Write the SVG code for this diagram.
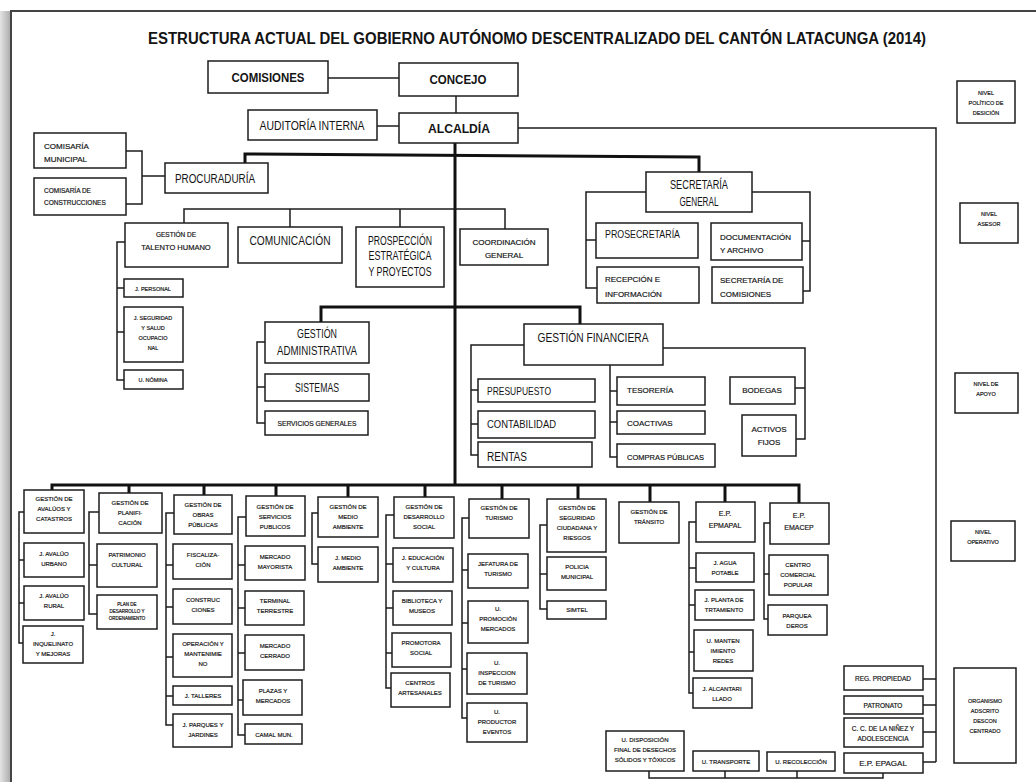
<svg xmlns="http://www.w3.org/2000/svg" width="1036" height="782" viewBox="0 0 1036 782">
<defs>
<linearGradient id="sh" x1="0" x2="1" y1="0" y2="0"><stop offset="0" stop-color="#e4e4e4"/><stop offset="1" stop-color="#a9a9a9"/></linearGradient>
<style>
.b{fill:#fff;stroke:#1c1c1c;stroke-width:1.5}
.c{fill:none;stroke:#1c1c1c;stroke-width:1.5}
.k{fill:none;stroke:#111;stroke-width:3}
text{font-family:"Liberation Sans",Arial,sans-serif;fill:#141414}
.m{text-anchor:middle}
.bd{font-weight:bold}
.s45,.s55,.s6,.s65,.s7,.s75,.s8,.sv{stroke:#141414;stroke-width:0.18}
.s45{font-size:4.5px}.s55{font-size:5.5px}.s6{font-size:6px}.s65{font-size:6.5px}.s7{font-size:7px}.s75{font-size:7.5px}.s8{font-size:8px}.s11{font-size:11px}.s12{font-size:12px}.s13{font-size:13px}
</style>
</defs>
<rect width="1036" height="782" fill="#fff"/>
<rect x="0" y="11" width="11" height="771" fill="url(#sh)"/>
<path d="M11,782 V11 H1036" fill="none" stroke="#444" stroke-width="2"/>
<text x="148" y="44" class="bd" font-size="16" textLength="778" lengthAdjust="spacingAndGlyphs">ESTRUCTURA ACTUAL DEL GOBIERNO AUTÓNOMO DESCENTRALIZADO DEL CANTÓN LATACUNGA (2014)</text>

<g id="connectors">
<path class="k" d="M245,163 V154 L699,157 V173"/>
<path class="k" d="M455,143 V485"/>
<path class="k" d="M321,322 V307 H580 V324"/>
<path class="k" d="M52,490 V485 H799 V503 M129,485 V493 M204,485 V495 M276,485 V496 M348,485 V497 M425,485 V497 M502,485 V499 M578,485 V499 M650,485 V502 M725,485 V502"/>
<path class="c" d="M328,78 H399"/>
<path class="c" stroke-width="2" d="M456,96 V113"/>
<path class="c" d="M377,126 H399"/>
<path class="c" d="M518,128 H936 V762 M923,679 H936 M923,705 H936 M923,732 H936 M923,762 H936"/>
<path class="c" d="M126,151 H142 V204 H126 M142,176 H165"/>
<path class="c" d="M646,192 H586 V288 H597 M586,240 H596"/>
<path class="c" d="M752,192 H810 V291 H803 M802,241 H810"/>
<path class="c" d="M184,223 V209 H505 V229 M290,209 V227 M400,209 V227"/>
<path class="c" d="M125,242 H117 V380 H124 M117,288 H124 M117,332 H124"/>
<path class="c" d="M265,342 H257 V423 H265 M257,387 H265"/>
<path class="c" d="M524,345 H471 V455 H478 M471,390 H478 M471,424 H478"/>
<path class="c" d="M610,365 V457 H617 M610,391 H617 M610,422 H617"/>
<path class="c" d="M663,348 H805 V439 H796 M795,388 H805"/>
<path class="c" d="M24,512 H19 V643 H23 M19,560 H24 M19,603 H24"/>
<path class="c" d="M99,512 H89 V614 H97 M89,565 H97"/>
<path class="c" d="M174,513 H166 V725 H173 M166,565 H173 M166,607 H173 M166,657 H173 M166,696 H173"/>
<path class="c" d="M246,517 H238 V735 H245 M238,565 H245 M238,608 H245 M238,653 H245 M238,700 H243"/>
<path class="c" d="M318,513 H312 V564 H318"/>
<path class="c" d="M394,515 H386 V688 H391 M386,564 H393 M386,608 H393 M386,653 H392"/>
<path class="c" d="M469,518 H462 V718 H467 M462,570 H468 M462,623 H468 M462,669 H467"/>
<path class="c" d="M547,525 H540 V609 H547 M540,574 H547"/>
<path class="c" d="M696,522 H689 V693 H693 M689,568 H696 M689,605 H695 M689,652 H694"/>
<path class="c" d="M770,523 H764 V619 H768 M764,574 H769"/>
<path class="c" d="M649,771 V778 H883 V773 M725,771 V778 M797,771 V778"/>
</g>

<g id="comisiones"><rect class="b" x="208" y="61" width="120" height="32"/><text class="m bd s13" x="268" y="82" textLength="73" lengthAdjust="spacingAndGlyphs">COMISIONES</text></g>
<g id="concejo"><rect class="b" x="399" y="63" width="119" height="33"/><text class="m bd s13" x="458" y="84" textLength="57" lengthAdjust="spacingAndGlyphs">CONCEJO</text></g>
<g id="auditoria"><rect class="b" x="248" y="110" width="129" height="30"/><text class="m s12" x="312" y="130" textLength="105" lengthAdjust="spacingAndGlyphs">AUDITORÍA INTERNA</text></g>
<g id="alcaldia"><rect class="b" x="399" y="113" width="119" height="30"/><text class="m bd s13" x="459" y="133" textLength="62" lengthAdjust="spacingAndGlyphs">ALCALDÍA</text></g>
<g id="procuraduria"><rect class="b" x="165" y="163" width="103" height="30"/><text class="s12" x="175" y="183" textLength="80" lengthAdjust="spacingAndGlyphs">PROCURADURÍA</text></g>
<g id="comisaria-municipal"><rect class="b" x="34" y="133" width="92" height="35"/><text class="s8" x="44" y="149">COMISARÍA</text><text class="s8" x="44" y="162">MUNICIPAL</text></g>
<g id="comisaria-construcciones"><rect class="b" x="34" y="178" width="92" height="37"/><text class="s65" x="44" y="193">COMISARÍA DE</text><text class="s65" x="44" y="205">CONSTRUCCIONES</text></g>
<g id="secretaria-general"><rect class="b" x="646" y="172" width="106" height="40"/><text class="m s12" x="699" y="189" textLength="58" lengthAdjust="spacingAndGlyphs">SECRETARÍA</text><text class="m s12" x="699" y="206" textLength="39" lengthAdjust="spacingAndGlyphs">GENERAL</text></g>
<g id="prosecretaria"><rect class="b" x="596" y="223" width="102" height="35"/><text class="s11" x="605" y="238" textLength="75" lengthAdjust="spacingAndGlyphs">PROSECRETARÍA</text></g>
<g id="recepcion"><rect class="b" x="597" y="267" width="102" height="36"/><text class="s8" x="605" y="282">RECEPCIÓN E</text><text class="s8" x="605" y="297">INFORMACIÓN</text></g>
<g id="documentacion"><rect class="b" x="711" y="223" width="91" height="37"/><text class="s8" x="720" y="240">DOCUMENTACIÓN</text><text class="s8" x="720" y="253">Y ARCHIVO</text></g>
<g id="secretaria-comisiones"><rect class="b" x="712" y="267" width="91" height="36"/><text class="s8" x="720" y="283">SECRETARÍA DE</text><text class="s8" x="720" y="297">COMISIONES</text></g>

<g id="talento-humano"><rect class="b" x="125" y="223" width="103" height="44"/><text class="m s65" x="176" y="237">GESTIÓN DE</text><text class="m s75" x="176" y="250">TALENTO HUMANO</text></g>
<g id="comunicacion"><rect class="b" x="238" y="227" width="104" height="36"/><text class="m s13" x="290" y="245" textLength="81" lengthAdjust="spacingAndGlyphs">COMUNICACIÓN</text></g>
<g id="prospeccion"><rect class="b" x="356" y="227" width="88" height="60"/><text class="m s12" x="400" y="245" textLength="64" lengthAdjust="spacingAndGlyphs">PROSPECCIÓN</text><text class="m s12" x="400" y="260" textLength="63" lengthAdjust="spacingAndGlyphs">ESTRATÉGICA</text><text class="m s12" x="400" y="276" textLength="63" lengthAdjust="spacingAndGlyphs">Y PROYECTOS</text></g>
<g id="coordinacion"><rect class="b" x="460" y="229" width="88" height="36"/><text class="m s8" x="504" y="245">COORDINACIÓN</text><text class="m s8" x="504" y="258">GENERAL</text></g>
<g id="j-personal"><rect class="b" x="124" y="279" width="59" height="18"/><text class="m s55" x="153" y="291">J. PERSONAL</text></g>
<g id="j-seguridad"><rect class="b" x="124" y="307" width="59" height="55"/><text class="m s55" x="153" y="320">J. SEGURIDAD</text><text class="m s55" x="153" y="330">Y SALUD</text><text class="m s55" x="153" y="340">OCUPACIO</text><text class="m s55" x="153" y="350">NAL</text></g>
<g id="u-nomina"><rect class="b" x="124" y="370" width="59" height="19"/><text class="m s55" x="153" y="382">U. NÓMINA</text></g>
<g id="gestion-administrativa"><rect class="b" x="265" y="322" width="104" height="41"/><text class="m s12" x="317" y="338" textLength="40" lengthAdjust="spacingAndGlyphs">GESTIÓN</text><text class="m s12" x="317" y="355" textLength="80" lengthAdjust="spacingAndGlyphs">ADMINISTRATIVA</text></g>
<g id="sistemas"><rect class="b" x="265" y="374" width="104" height="27"/><text class="m s12" x="317" y="392" textLength="44" lengthAdjust="spacingAndGlyphs">SISTEMAS</text></g>
<g id="servicios-generales"><rect class="b" x="265" y="411" width="103" height="24"/><text class="m sv" font-size="6.7" x="317" y="426">SERVICIOS GENERALES</text></g>
<g id="gestion-financiera"><rect class="b" x="524" y="324" width="139" height="41"/><text class="m s12" x="593" y="342" textLength="111" lengthAdjust="spacingAndGlyphs">GESTIÓN FINANCIERA</text></g>
<g id="presupuesto"><rect class="b" x="478" y="379" width="117" height="23"/><text class="s11" x="487" y="395" textLength="64" lengthAdjust="spacingAndGlyphs">PRESUPUESTO</text></g>
<g id="contabilidad"><rect class="b" x="478" y="411" width="117" height="27"/><text class="s11" x="487" y="428" textLength="69" lengthAdjust="spacingAndGlyphs">CONTABILIDAD</text></g>
<g id="rentas"><rect class="b" x="478" y="442" width="114" height="25"/><text class="s12" x="487" y="461" textLength="40" lengthAdjust="spacingAndGlyphs">RENTAS</text></g>
<g id="tesoreria"><rect class="b" x="617" y="377" width="88" height="28"/><text class="s8" x="627" y="393">TESORERÍA</text></g>
<g id="coactivas"><rect class="b" x="617" y="411" width="88" height="23"/><text class="s8" x="627" y="426">COACTIVAS</text></g>
<g id="compras-publicas"><rect class="b" x="617" y="444" width="98" height="23"/><text class="s75" x="627" y="460">COMPRAS PÚBLICAS</text></g>
<g id="bodegas"><rect class="b" x="730" y="377" width="65" height="27"/><text class="m s8" x="762" y="393">BODEGAS</text></g>
<g id="activos-fijos"><rect class="b" x="742" y="415" width="54" height="41"/><text class="m s8" x="769" y="432">ACTIVOS</text><text class="m s8" x="769" y="445">FIJOS</text></g>

<g id="avaluos"><rect class="b" x="24" y="490" width="60" height="43"/><text class="m s6" x="54" y="501">GESTIÓN DE</text><text class="m s6" x="54" y="511">AVALÚOS Y</text><text class="m s6" x="54" y="521">CATASTROS</text></g>
<g id="avaluo-urbano"><rect class="b" x="24" y="543" width="60" height="34"/><text class="m s6" x="54" y="556">J. AVALÚO</text><text class="m s6" x="54" y="566">URBANO</text></g>
<g id="avaluo-rural"><rect class="b" x="24" y="586" width="60" height="34"/><text class="m s6" x="54" y="598">J. AVALÚO</text><text class="m s6" x="54" y="608">RURAL</text></g>
<g id="inquelinato"><rect class="b" x="23" y="626" width="60" height="37"/><text class="m s6" x="53" y="636">J.</text><text class="m s6" x="53" y="646">INQUELINATO</text><text class="m s6" x="53" y="656">Y MEJORAS</text></g>

<g id="planificacion"><rect class="b" x="99" y="493" width="63" height="40"/><text class="m s6" x="130" y="505">GESTIÓN DE</text><text class="m s6" x="130" y="515">PLANIFI-</text><text class="m s6" x="130" y="525">CACIÓN</text></g>
<g id="patrimonio"><rect class="b" x="97" y="544" width="60" height="43"/><text class="m s6" x="127" y="557">PATRIMONIO</text><text class="m s6" x="127" y="567">CULTURAL</text></g>
<g id="plan-desarrollo"><rect class="b" x="97" y="595" width="60" height="34"/><text class="m s45" x="127" y="606">PLAN DE</text><text class="m s45" x="127" y="613">DESARROLLO Y</text><text class="m s45" x="127" y="620">ORDENAMIENTO</text></g>

<g id="obras-publicas"><rect class="b" x="174" y="495" width="58" height="39"/><text class="m s6" x="203" y="507">GESTIÓN  DE</text><text class="m s6" x="203" y="517">OBRAS</text><text class="m s6" x="203" y="527">PÚBLICAS</text></g>
<g id="fiscalizacion"><rect class="b" x="173" y="544" width="59" height="35"/><text class="m s6" x="203" y="557">FISCALIZA-</text><text class="m s6" x="203" y="567">CIÓN</text></g>
<g id="construcciones"><rect class="b" x="173" y="589" width="59" height="35"/><text class="m s6" x="203" y="602">CONSTRUC</text><text class="m s6" x="203" y="612">CIONES</text></g>
<g id="operacion"><rect class="b" x="173" y="634" width="59" height="43"/><text class="m s6" x="203" y="646">OPERACIÓN Y</text><text class="m s6" x="203" y="656">MANTENIMIE</text><text class="m s6" x="203" y="666">NO</text></g>
<g id="talleres"><rect class="b" x="173" y="686" width="59" height="19"/><text class="m s6" x="203" y="698">J. TALLERES</text></g>
<g id="parques"><rect class="b" x="173" y="714" width="59" height="33"/><text class="m s6" x="203" y="727">J. PARQUES Y</text><text class="m s6" x="203" y="737">JARDINES</text></g>

<g id="servicios-publicos"><rect class="b" x="246" y="496" width="59" height="40"/><text class="m s6" x="275" y="509">GESTIÓN DE</text><text class="m s6" x="275" y="519">SERVICIOS</text><text class="m s6" x="275" y="529">PUBLICOS</text></g>
<g id="mercado-mayorista"><rect class="b" x="245" y="546" width="60" height="34"/><text class="m s6" x="275" y="559">MERCADO</text><text class="m s6" x="275" y="569">MAYORISTA</text></g>
<g id="terminal"><rect class="b" x="245" y="591" width="59" height="34"/><text class="m s6" x="275" y="603">TERMINAL</text><text class="m s6" x="275" y="613">TERRESTRE</text></g>
<g id="mercado-cerrado"><rect class="b" x="245" y="635" width="59" height="35"/><text class="m s6" x="275" y="648">MERCADO</text><text class="m s6" x="275" y="658">CERRADO</text></g>
<g id="plazas"><rect class="b" x="243" y="680" width="59" height="35"/><text class="m s6" x="273" y="693">PLAZAS Y</text><text class="m s6" x="273" y="703">MERCADOS</text></g>
<g id="camal"><rect class="b" x="245" y="724" width="57" height="20"/><text class="m s6" x="274" y="737">CAMAL MUN.</text></g>

<g id="medio-ambiente"><rect class="b" x="318" y="497" width="60" height="40"/><text class="m s6" x="348" y="509">GESTIÓN DE</text><text class="m s6" x="348" y="519">MEDIO</text><text class="m s6" x="348" y="529">AMBIENTE</text></g>
<g id="j-medio-ambiente"><rect class="b" x="318" y="547" width="60" height="35"/><text class="m s6" x="348" y="560">J. MEDIO</text><text class="m s6" x="348" y="570">AMBIENTE</text></g>

<g id="desarrollo-social"><rect class="b" x="394" y="497" width="60" height="41"/><text class="m s6" x="424" y="509">GESTIÓN DE</text><text class="m s6" x="424" y="519">DESARROLLO</text><text class="m s6" x="424" y="529">SOCIAL</text></g>
<g id="educacion"><rect class="b" x="393" y="548" width="60" height="34"/><text class="m s6" x="423" y="560">J. EDUCACIÓN</text><text class="m s6" x="423" y="570">Y CULTURA</text></g>
<g id="biblioteca"><rect class="b" x="393" y="591" width="59" height="34"/><text class="m s6" x="422" y="603">BIBLIOTECA Y</text><text class="m s6" x="422" y="613">MUSEOS</text></g>
<g id="promotora"><rect class="b" x="392" y="633" width="59" height="34"/><text class="m s6" x="421" y="645">PROMOTORA</text><text class="m s6" x="421" y="655">SOCIAL</text></g>
<g id="centros"><rect class="b" x="391" y="673" width="59" height="34"/><text class="m s6" x="420" y="685">CENTROS</text><text class="m s6" x="420" y="695">ARTESANALES</text></g>

<g id="turismo"><rect class="b" x="469" y="499" width="60" height="39"/><text class="m s6" x="499" y="510">GESTIÓN DE</text><text class="m s6" x="499" y="520">TURISMO</text></g>
<g id="jefatura"><rect class="b" x="468" y="554" width="60" height="34"/><text class="m s6" x="498" y="566">JEFATURA DE</text><text class="m s6" x="498" y="576">TURISMO</text></g>
<g id="promocion"><rect class="b" x="468" y="601" width="60" height="42"/><text class="m s6" x="498" y="611">U.</text><text class="m s6" x="498" y="621">PROMOCIÓN</text><text class="m s6" x="498" y="631">MERCADOS</text></g>
<g id="inspeccion"><rect class="b" x="467" y="653" width="60" height="41"/><text class="m s6" x="497" y="665">U.</text><text class="m s6" x="497" y="675">INSPECCION</text><text class="m s6" x="497" y="685">DE TURISMO</text></g>
<g id="productor"><rect class="b" x="467" y="703" width="60" height="39"/><text class="m s6" x="497" y="714">U.</text><text class="m s6" x="497" y="724">PRODUCTOR</text><text class="m s6" x="497" y="734">EVENTOS</text></g>

<g id="seguridad-ciudadana"><rect class="b" x="547" y="499" width="59" height="53"/><text class="m s6" x="577" y="510">GESTIÓN DE</text><text class="m s6" x="577" y="520">SEGURIDAD</text><text class="m s6" x="577" y="530">CIUDADANA Y</text><text class="m s6" x="577" y="540">RIESGOS</text></g>
<g id="policia"><rect class="b" x="547" y="557" width="59" height="33"/><text class="m s6" x="577" y="569">POLICIA</text><text class="m s6" x="577" y="579">MUNICIPAL</text></g>
<g id="simtel"><rect class="b" x="547" y="601" width="59" height="18"/><text class="m s6" x="577" y="612">SIMTEL</text></g>

<g id="transito"><rect class="b" x="619" y="502" width="60" height="41"/><text class="m s6" x="649" y="514">GESTIÓN DE</text><text class="m s6" x="649" y="524">TRÁNSITO</text></g>

<g id="epmapal"><rect class="b" x="696" y="502" width="59" height="40"/><text class="m s7" x="725" y="516">E.P.</text><text class="m s7" x="725" y="528">EPMAPAL</text></g>
<g id="agua-potable"><rect class="b" x="696" y="553" width="58" height="29"/><text class="m s6" x="725" y="565">J. AGUA</text><text class="m s6" x="725" y="575">POTABLE</text></g>
<g id="planta-tratamiento"><rect class="b" x="695" y="590" width="59" height="30"/><text class="m s6" x="724" y="602">J. PLANTA DE</text><text class="m s6" x="724" y="612">TRTAMIENTO</text></g>
<g id="mantenimiento-redes"><rect class="b" x="694" y="630" width="59" height="41"/><text class="m s6" x="723" y="643">U. MANTEN</text><text class="m s6" x="723" y="653">IMIENTO</text><text class="m s6" x="723" y="663">REDES</text></g>
<g id="alcantarillado"><rect class="b" x="693" y="678" width="59" height="30"/><text class="m s6" x="722" y="691">J. ALCANTARI</text><text class="m s6" x="722" y="701">LLADO</text></g>

<g id="emacep"><rect class="b" x="770" y="503" width="59" height="41"/><text class="m s7" x="799" y="518">E.P.</text><text class="m s7" x="799" y="530">EMACEP</text></g>
<g id="centro-comercial"><rect class="b" x="769" y="555" width="59" height="40"/><text class="m s6" x="798" y="567">CENTRO</text><text class="m s6" x="798" y="577">COMERCIAL</text><text class="m s6" x="798" y="587">POPULAR</text></g>
<g id="parqueaderos"><rect class="b" x="768" y="605" width="59" height="30"/><text class="m s6" x="797" y="618">PARQUEA</text><text class="m s6" x="797" y="628">DEROS</text></g>

<g id="reg-propiedad"><rect class="b" x="844" y="666" width="79" height="24"/><text class="m s65" x="883" y="681">REG. PROPIEDAD</text></g>
<g id="patronato"><rect class="b" x="844" y="696" width="79" height="18"/><text class="m s65" x="883" y="708">PATRONATO</text></g>
<g id="ninez"><rect class="b" x="844" y="718" width="79" height="29"/><text class="m s65" x="883" y="731">C. C. DE LA NIÑEZ Y</text><text class="m s65" x="883" y="741">ADOLESCENCIA</text></g>
<g id="epagal"><rect class="b" x="844" y="753" width="79" height="20"/><text class="m s8" x="883" y="766">E.P. EPAGAL</text></g>

<g id="disposicion"><rect class="b" x="606" y="731" width="78" height="40"/><text class="m s6" x="645" y="742">U. DISPOSICIÓN</text><text class="m s6" x="645" y="752">FINAL DE DESECHOS</text><text class="m s6" x="645" y="762">SÓLIDOS Y TÓXICOS</text></g>
<g id="transporte"><rect class="b" x="693" y="751" width="66" height="20"/><text class="m s6" x="726" y="764">U. TRANSPORTE</text></g>
<g id="recoleccion"><rect class="b" x="767" y="752" width="68" height="19"/><text class="m s6" x="801" y="764">U. RECOLECCIÓN</text></g>

<g id="nivel-politico"><rect class="b" x="957" y="81" width="58" height="42"/><text class="m s55" x="986" y="95">NIVEL</text><text class="m s55" x="986" y="105">POLÍTICO DE</text><text class="m s55" x="986" y="115">DESICIÓN</text></g>
<g id="nivel-asesor"><rect class="b" x="960" y="203" width="58" height="40"/><text class="m s55" x="989" y="216">NIVEL</text><text class="m s55" x="989" y="226">ASESOR</text></g>
<g id="nivel-apoyo"><rect class="b" x="955" y="373" width="63" height="40"/><text class="m s55" x="986" y="386">NIVEL DE</text><text class="m s55" x="986" y="396">APOYO</text></g>
<g id="nivel-operativo"><rect class="b" x="951" y="521" width="64" height="40"/><text class="m s55" x="983" y="534">NIVEL</text><text class="m s55" x="983" y="544">OPERATIVO</text></g>
<g id="organismo"><rect class="b" x="954" y="668" width="62" height="95"/><text class="m s55" x="985" y="703">ORGANISMO</text><text class="m s55" x="985" y="713">ADSCRITO</text><text class="m s55" x="985" y="723">DESCON</text><text class="m s55" x="985" y="733">CENTRADO</text></g>
</svg>
